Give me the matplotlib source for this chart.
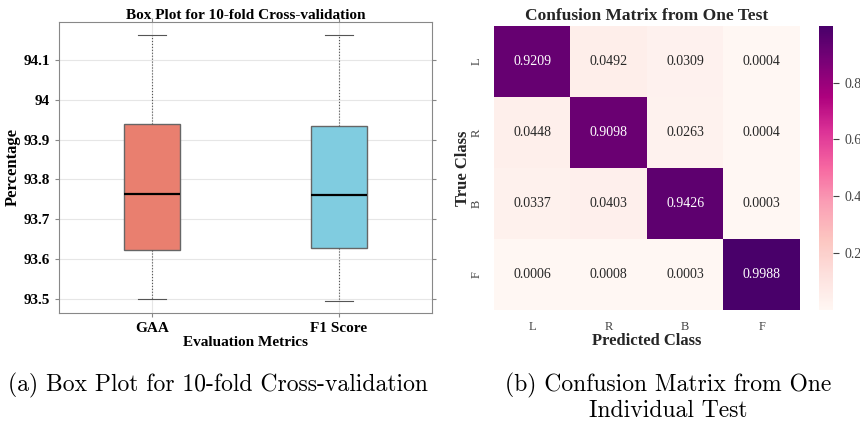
import matplotlib.pyplot as plt
import numpy as np

metrics = ['GAA', 'F1 Score']
# box stats: low whisker, Q1, median, Q3, high whisker
whislo = [93.500, 93.495]
q1 = [93.623, 93.628]
med = [93.763, 93.762]
q3 = [93.939, 93.935]
whishi = [94.163, 94.163]
box_colors = ['#E97F6F', '#80CCE0']

classes = ['L', 'R', 'B', 'F']
cm = np.array([
    [0.9209, 0.0492, 0.0309, 0.0004],
    [0.0448, 0.9098, 0.0263, 0.0004],
    [0.0337, 0.0403, 0.9426, 0.0003],
    [0.0006, 0.0008, 0.0003, 0.9988],
])

serif = 'Liberation Serif'
fig = plt.figure(figsize=(8.6, 4.28), dpi=100)

# (a) box plot
ax1 = fig.add_axes([59/860, 1-313/428, (432-59)/860, (313-22)/428])
stats = []
for i in range(len(metrics)):
    stats.append(dict(label=metrics[i], whislo=whislo[i], q1=q1[i], med=med[i],
                      q3=q3[i], whishi=whishi[i], fliers=[]))
bp = ax1.bxp(stats, positions=[1, 2], widths=0.3, patch_artist=True,
             medianprops=dict(color='black', linewidth=1.6),
             whiskerprops=dict(color='#555555', linestyle=':', linewidth=0.8),
             capprops=dict(color='#555555', linewidth=0.8),
             boxprops=dict(linewidth=1.0))
for patch, c in zip(bp['boxes'], box_colors):
    patch.set_facecolor(c)
    patch.set_edgecolor('#666666')
ax1.set_xlim(0.5, 2.5)
ax1.set_ylim(93.465, 94.195)
ax1.set_yticks([93.5, 93.6, 93.7, 93.8, 93.9, 94.0, 94.1])
ax1.set_yticklabels(['93.5', '93.6', '93.7', '93.8', '93.9', '94', '94.1'])
ax1.grid(True, color='#e6e6e6', linewidth=0.8)
ax1.set_axisbelow(True)
for s in ax1.spines.values():
    s.set_color('#888888')
ax1.tick_params(top=True, right=True, color='#888888', length=3)
for lbl in ax1.get_xticklabels() + ax1.get_yticklabels():
    lbl.set_fontfamily(serif)
    lbl.set_fontweight('bold')
    lbl.set_fontsize(11)
ax1.set_title('Box Plot for 10-fold Cross-validation', fontfamily=serif,
              fontweight='bold', fontsize=11, pad=2)
ax1.set_ylabel('Percentage', fontfamily=serif, fontweight='bold', fontsize=12, labelpad=2)
ax1.set_xlabel('Evaluation Metrics', fontfamily=serif, fontweight='bold', fontsize=11, labelpad=1)

# (b) confusion matrix
ax2 = fig.add_axes([494/860, 1-310/428, (800-494)/860, (310-26)/428])
cax = fig.add_axes([819/860, 1-310/428, 14/860, (310-26)/428])
im = ax2.imshow(cm, cmap='RdPu', aspect='auto', vmin=cm.min(), vmax=cm.max())
for i in range(4):
    for j in range(4):
        v = cm[i, j]
        ax2.text(j, i, f'{v:.4f}', ha='center', va='center', fontfamily=serif,
                 fontsize=10, color='white' if v > 0.5 else '#262626')
ax2.set_xticks(range(4))
ax2.set_xticklabels(classes, fontfamily=serif, fontsize=9, color='#444444')
ax2.set_yticks(range(4))
ax2.set_yticklabels(classes, fontfamily=serif, fontsize=9, color='#444444', rotation=90, va='center')
ax2.tick_params(length=0, pad=8)
for s in ax2.spines.values():
    s.set_visible(False)
ax2.set_title('Confusion Matrix from One Test', fontfamily=serif, fontweight='bold',
              fontsize=12.5, color='#262626', pad=4)
ax2.set_xlabel('Predicted Class', fontfamily=serif, fontweight='bold', fontsize=12,
               color='#262626', labelpad=0)
ax2.set_ylabel('True Class', fontfamily=serif, fontweight='bold', fontsize=12,
               color='#262626', labelpad=0)
cb = fig.colorbar(im, cax=cax)
cb.set_ticks([0.2, 0.4, 0.6, 0.8])
cb.outline.set_visible(False)
cax.tick_params(length=4, color='#444444', width=0.8, pad=4)
for lbl in cax.get_yticklabels():
    lbl.set_fontfamily(serif)
    lbl.set_fontsize(10)
    lbl.set_color('#444444')

# captions
fig.text(218/860, 1-385/428, '(a) Box Plot for 10-fold Cross-validation',
         fontfamily='cmr10', fontsize=17, ha='center', va='center')
fig.text(668/860, 1-385/428, '(b) Confusion Matrix from One',
         fontfamily='cmr10', fontsize=17, ha='center', va='center')
fig.text(668/860, 1-411/428, 'Individual Test',
         fontfamily='cmr10', fontsize=17, ha='center', va='center')

fig.savefig('out.png', dpi=100)
